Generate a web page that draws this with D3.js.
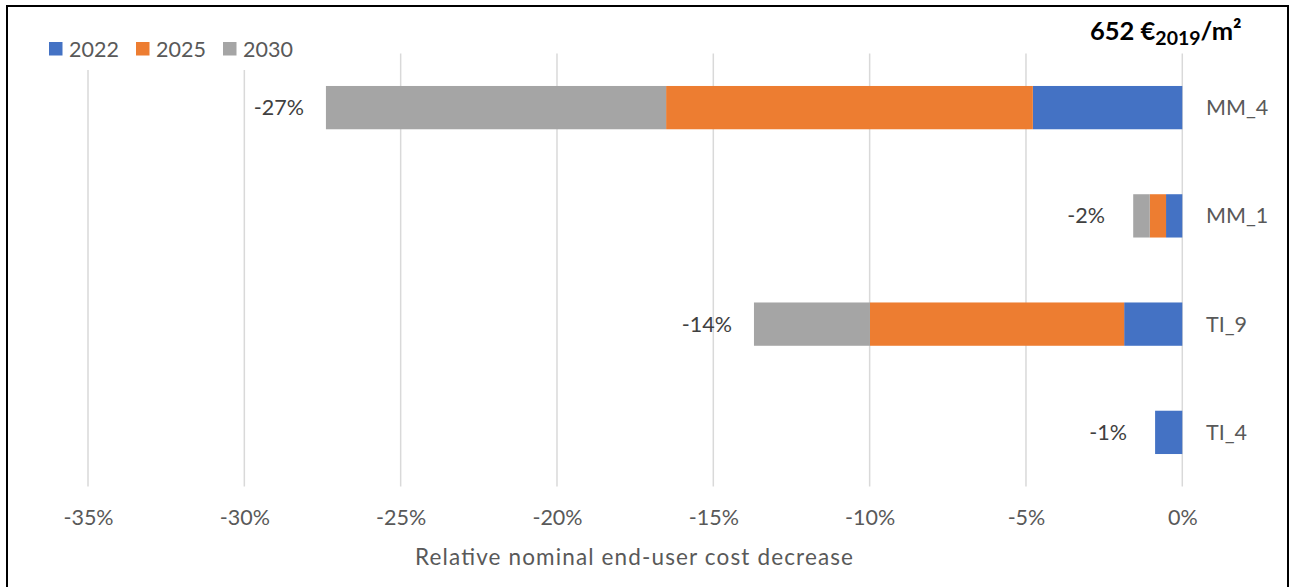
<!DOCTYPE html>
<html>
<head>
<meta charset="utf-8">
<script src="https://cdn.jsdelivr.net/npm/d3@7"></script>
<style>
  html, body { margin: 0; padding: 0; background: #fff; }
  svg { display: block; }
  text { font-family: Lato, "Liberation Sans", sans-serif; }
</style>
</head>
<body>
<svg id="chart" width="1295" height="587"></svg>
<script>
// ---- Data (values in %, as decreases) ----
const categories = ["MM_4", "MM_1", "TI_9", "TI_4"];
const seriesNames = ["2022", "2025", "2030"];
const values2022 = [-4.78, -0.52, -1.86, -0.87];
const values2025 = [-11.73, -0.52, -8.13, 0];
const values2030 = [-10.88, -0.53, -3.71, 0];
const totalLabels = ["-27%", "-2%", "-14%", "-1%"];
const tickValues = [-35, -30, -25, -20, -15, -10, -5, 0];
const colors = ["#4472C4", "#ED7D31", "#A5A5A5"];
const axisTitle = "Relative nominal end-user cost decrease";

const svg = d3.select("#chart");

// outer border
svg.append("rect").attr("x", 7).attr("y", 6).attr("width", 1281).attr("height", 600)
  .attr("fill", "none").attr("stroke", "#000").attr("stroke-width", 2);

const x = d3.scaleLinear().domain([-35, 0]).range([88, 1182.3]);
const y = d3.scaleBand().domain(categories).range([53.5, 486.5]).paddingInner(0.6).paddingOuter(0.3);

// gridlines
svg.append("g").selectAll("line").data(tickValues).join("line")
  .attr("x1", d => x(d)).attr("x2", d => x(d))
  .attr("y1", 53.5).attr("y2", 486.5)
  .attr("stroke", "#D9D9D9").attr("stroke-width", 1.5);

// stacked bars
const table = categories.map((c, i) => ({ cat: c, "2022": values2022[i], "2025": values2025[i], "2030": values2030[i] }));
const stack = d3.stack().keys(seriesNames).offset(d3.stackOffsetDiverging)(table);

svg.append("g").selectAll("g").data(stack).join("g")
  .attr("fill", (d, i) => colors[i])
  .selectAll("rect").data(d => d).join("rect")
  .attr("x", d => x(Math.min(d[0], d[1])))
  .attr("width", d => Math.abs(x(d[1]) - x(d[0])))
  .attr("y", d => y(d.data.cat))
  .attr("height", y.bandwidth());

// total labels
svg.append("g").selectAll("text").data(table).join("text")
  .attr("x", (d, i) => x(values2022[i] + values2025[i] + values2030[i]) - 47)
  .attr("y", d => y(d.cat) + y.bandwidth() / 2)
  .attr("dy", "0.35em")
  .attr("text-anchor", "middle")
  .attr("font-size", 21.5)
  .attr("fill", "#404040")
  .text((d, i) => totalLabels[i]);

// category labels (right side)
svg.append("g").selectAll("text").data(categories).join("text")
  .attr("x", 1206)
  .attr("y", d => y(d) + y.bandwidth() / 2)
  .attr("dy", "0.35em")
  .attr("font-size", 21.5)
  .attr("fill", "#595959")
  .text(d => d);

// x axis tick labels
const xAxis = d3.axisBottom(x).tickValues(tickValues).tickSize(0).tickPadding(0)
  .tickFormat(d => d + "%");
const gx = svg.append("g").attr("transform", "translate(0,525)").call(xAxis);
gx.select(".domain").remove();
gx.selectAll("text").attr("font-size", 21.5).attr("fill", "#595959")
  .attr("font-family", "Lato, 'Liberation Sans', sans-serif").attr("dy", 0).attr("y", 0);

// axis title
svg.append("text").attr("x", 415).attr("y", 565)
  .attr("font-size", 22.5).attr("fill", "#595959")
  .attr("textLength", 438).attr("lengthAdjust", "spacing").text(axisTitle);

// legend (with white background covering gridlines)
svg.append("rect").attr("x", 40).attr("y", 30).attr("width", 262).attr("height", 40).attr("fill", "#fff");
const legend = svg.append("g").selectAll("g").data(seriesNames).join("g")
  .attr("transform", (d, i) => `translate(${[49, 136, 223][i]},42)`);
legend.append("rect").attr("width", 13.5).attr("height", 13.5).attr("fill", (d, i) => colors[i]);
legend.append("text").attr("x", 20).attr("y", 7).attr("dy", "0.35em")
  .attr("font-size", 21.5).attr("fill", "#595959").text(d => d);

// title
const title = svg.append("text").attr("x", 1090).attr("y", 40)
  .attr("font-size", 25.5).attr("font-weight", "bold").attr("fill", "#000");
title.append("tspan").text("652 €");
title.append("tspan").attr("font-size", 19.5).attr("dy", 5).text("2019");
title.append("tspan").attr("dy", -5).text("/m²");
</script>
</body>
</html>
